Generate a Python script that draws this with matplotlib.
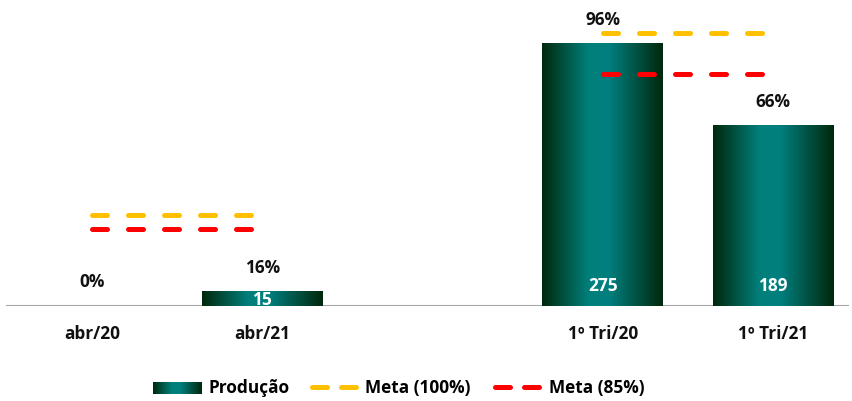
import numpy as np
import matplotlib.pyplot as plt
from matplotlib.colors import LinearSegmentedColormap
from matplotlib.lines import Line2D

# dados do gráfico
categorias = ['abr/20', 'abr/21', '1º Tri/20', '1º Tri/21']
posicoes = [0, 1, 3, 4]
producao = [0, 15, 275, 189]
percentuais = ['0%', '16%', '96%', '66%']
meta_100 = [95, 95, 286, 286]
meta_85 = [81, 81, 243, 243]

plt.rcParams['font.family'] = ['Open Sans', 'DejaVu Sans']
plt.rcParams['font.weight'] = 'bold'
fs = 12.4

cmap = LinearSegmentedColormap.from_list(
    'barra', [(0, '#00280c'), (0.38, '#007f7a'), (0.55, '#008080'), (1, '#00280c')])
grad = np.linspace(0, 1, 256).reshape(1, -1)

fig = plt.figure(figsize=(8.52, 4.02), dpi=100)
ax = fig.add_axes([0, 95 / 402, 1, 307 / 402])
ax.axis('off')

largura = 0.71
for x, v in zip(posicoes, producao):
    if v > 0:
        ax.imshow(grad, extent=[x - largura / 2, x + largura / 2, 0, v],
                  aspect='auto', cmap=cmap, zorder=2)

for x, v, p in zip(posicoes, producao, percentuais):
    ax.annotate(p, (x, v), xytext=(0, 25), textcoords='offset pixels',
                ha='center', va='center', fontsize=fs, fontweight='bold', color='#111111')
    if v > 0:
        ax.text(x, min(v / 2, 22), str(v), ha='center', va='center',
                fontsize=fs, fontweight='bold', color='white', zorder=4)

# linhas de meta
estilo = dict(lw=3.6, dash_capstyle='round', zorder=3)
for grupo in ([0, 1], [2, 3]):
    xs = [posicoes[i] for i in grupo]
    ax.plot(xs, [meta_100[i] for i in grupo], color='#FFC000', ls=(0, (3, 4.2)), **estilo)
    ax.plot(xs, [meta_85[i] for i in grupo], color='#FF0000', ls=(0, (3, 4.2)), **estilo)

ax.axhline(0, xmin=7 / 852, xmax=848 / 852, color='#A6A6A6', lw=1.5, zorder=1)
ax.set_xlim(-92 / 170.3, (852 - 92) / 170.3)
ax.set_ylim(0, 322)

for x, c in zip(posicoes, categorias):
    ax.annotate(c, (x, 0), xytext=(0, -27), textcoords='offset pixels',
                ha='center', va='center', fontsize=fs, fontweight='bold', color='#111111')

# legenda manual
ly = 1 - 388 / 402
lax = fig.add_axes([153 / 852, 1 - 395 / 402, 49 / 852, 12 / 402])
lax.imshow(grad, aspect='auto', cmap=cmap, extent=[0, 1, 0, 1])
lax.axis('off')
fig.text(208 / 852, ly, 'Produção', ha='left', va='center', fontsize=fs, fontweight='bold')
fig.add_artist(Line2D([312 / 852, 356 / 852], [ly, ly], color='#FFC000', lw=3.6,
                      ls=(0, (3, 2.8)), dash_capstyle='round'))
fig.text(365 / 852, ly, 'Meta (100%)', ha='left', va='center', fontsize=fs, fontweight='bold')
fig.add_artist(Line2D([495 / 852, 539 / 852], [ly, ly], color='#FF0000', lw=3.6,
                      ls=(0, (3, 2.8)), dash_capstyle='round'))
fig.text(549 / 852, ly, 'Meta (85%)', ha='left', va='center', fontsize=fs, fontweight='bold')

fig.savefig('out.png', dpi=100)
